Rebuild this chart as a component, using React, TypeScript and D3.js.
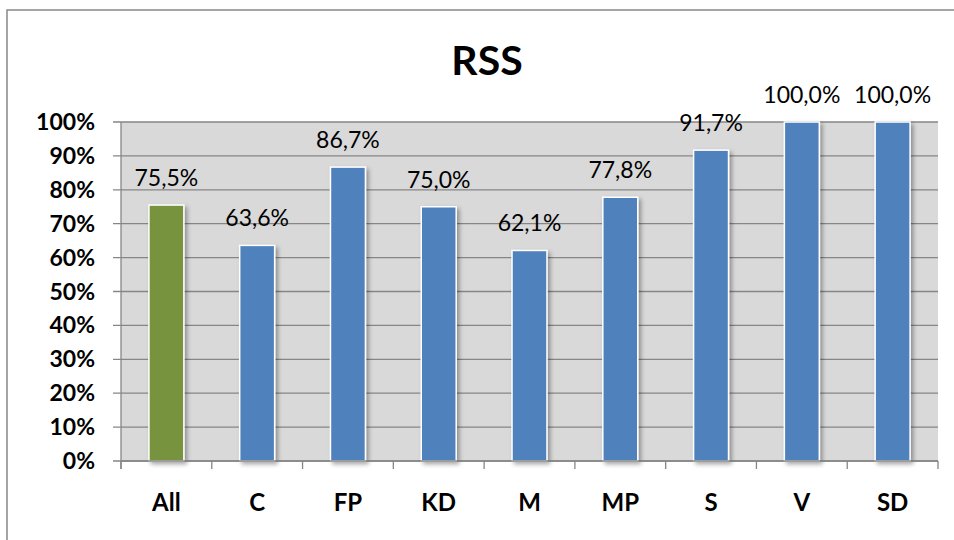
import React from "react";
import * as d3 from "d3";

const categories = ["All", "C", "FP", "KD", "M", "MP", "S", "V", "SD"];
const values = [75.5, 63.6, 86.7, 75.0, 62.1, 77.8, 91.7, 100.0, 100.0];
const barColors = ["#77933C", "#4F81BD", "#4F81BD", "#4F81BD", "#4F81BD", "#4F81BD", "#4F81BD", "#4F81BD", "#4F81BD"];
const yTicks = [0, 10, 20, 30, 40, 50, 60, 70, 80, 90, 100];
const title = "RSS";

const W = 954;
const H = 540;
const left = 121;
const right = 938;
const top = 122;
const bottom = 461;
const FONT = "Lato, 'Open Sans', sans-serif";

export default function App() {
  const x = d3.scaleBand<string>().domain(categories).range([left, right]).paddingInner(0).paddingOuter(0);
  const y = d3.scaleLinear().domain([0, 100]).range([bottom, top]);
  const bw = x.bandwidth() * 0.385;
  const fmt = (v: number) => v.toFixed(1).replace(".", ",") + "%";
  const bounds = categories.map((c) => x(c) as number).concat([right]);

  return (
    <svg width={W} height={H} style={{ position: "absolute", left: 0, top: 0 }}>
      <defs>
        <filter id="sh" x="-30%" y="-10%" width="170%" height="130%">
          <feDropShadow dx="2.5" dy="2.5" stdDeviation="2" floodColor="#000" floodOpacity="0.35" />
        </filter>
      </defs>
      <rect x={0} y={0} width={W} height={H} fill="#fff" />
      <rect x={7} y={10} width={W + 20} height={H + 20} fill="#fff" stroke="#888" strokeWidth={1.5} />
      <text x={487} y={75} textAnchor="middle" fontFamily={FONT} fontWeight="bold" fontSize={41} fill="#000">
        {title}
      </text>
      <rect x={left} y={top} width={right - left} height={bottom - top} fill="#D9D9D9" />
      {yTicks.map((t) => (
        <g key={t}>
          <line x1={left - 8} x2={right} y1={y(t)} y2={y(t)} stroke="#868686" strokeWidth={1.3} />
          <text x={95} y={y(t) + 8} textAnchor="end" fontFamily={FONT} fontWeight="bold" fontSize={23} fill="#000">
            {t}%
          </text>
        </g>
      ))}
      <line x1={left} x2={left} y1={top} y2={bottom + 8} stroke="#868686" strokeWidth={1.3} />
      {bounds.map((bx, i) => (
        <line key={i} x1={bx} x2={bx} y1={bottom} y2={bottom + 8} stroke="#868686" strokeWidth={1.3} />
      ))}
      {categories.map((c, i) => {
        const cx = (x(c) as number) + x.bandwidth() / 2;
        return (
          <g key={c}>
            <rect
              x={cx - bw / 2}
              y={y(values[i])}
              width={bw}
              height={bottom - y(values[i])}
              fill={barColors[i]}
              stroke="#fff"
              strokeWidth={1.5}
              filter="url(#sh)"
            />
            <text x={cx} y={y(values[i]) - 19} textAnchor="middle" fontFamily={FONT} fontSize={23} fill="#000">
              {fmt(values[i])}
            </text>
            <text x={cx} y={511} textAnchor="middle" fontFamily={FONT} fontWeight="bold" fontSize={24} fill="#000">
              {c}
            </text>
          </g>
        );
      })}
      <line x1={left} x2={right} y1={bottom} y2={bottom} stroke="#868686" strokeWidth={1.5} />
    </svg>
  );
}
